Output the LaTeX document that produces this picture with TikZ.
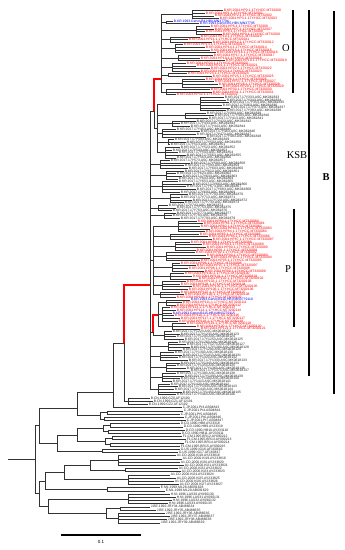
\documentclass[tikz,border=0pt]{standalone}
\usepackage{fontspec}
\setmainfont{Liberation Serif}
\newfontfamily\tipfont{Liberation Sans}

% label parts by colour code
\newcommand\prer{B.KR.2004.HP}\newcommand\sufr{-1.17Y.HCC.MT3200}
\newcommand\preb{B.KR.1993.Genot.B}\newcommand\sufb{.HBV.MN3779}
\newcommand\prek{B.KR.2017.17Y}\newcommand\sufk{3.ASC.MK0618}
\newcommand\pren{B.CN.1999.GZ}\newcommand\sufn{.AF1219}
\newcommand\preC{C.JP.2001.Pt}\newcommand\sufC{.AB0484}
\newcommand\preD{D.CD.1990.HB}\newcommand\sufD{.AY2331}
\newcommand\preF{F1.CM.1995.BR}\newcommand\sufF{.AY0902}
\newcommand\preG{G.US.1999.IG}\newcommand\sufG{.AF1606}
\newcommand\preA{A1.CD.2000.KI}\newcommand\sufA{.AY2338}
\newcommand\preE{E.ML.1998.ML}\newcommand\sufE{.AB0916}
\newcommand\preH{H.NI.1996.LAS}\newcommand\sufH{.AY0901}
\newcommand\preJ{J.BE.1992.JRY}\newcommand\sufJ{.AB4866}
\colorlet{colr}{red}
\colorlet{colb}{blue}
\colorlet{colk}{black!85}
\colorlet{coln}{colk}\colorlet{colC}{colk}\colorlet{colD}{colk}
\colorlet{colF}{colk}\colorlet{colG}{colk}\colorlet{colA}{colk}
\colorlet{colE}{colk}\colorlet{colH}{colk}\colorlet{colJ}{colk}

\tikzset{
  br/.style={draw=black!80, line width=0.45pt},
  hl/.style={draw=red, line width=2.4pt},
  lfnode/.style={anchor=west, inner sep=0pt, outer xsep=0.8pt, outer ysep=0pt,
    font={\tipfont\fontsize{3.4}{3.4}\selectfont}},
  bar/.style={draw=black, line width=1.8pt},
  clab/.style={inner sep=0pt, font={\fontsize{10.5}{10.5}\selectfont}}
}

\newcounter{lf}
\def\yo{10.5}\def\dy{2.63}
% one small clade: name, parent x, node x, tips x/colour
\newcommand\grp[4]{%
  \pgfmathsetmacro\grpA{\yo+\dy*\the\value{lf}}%
  \foreach \tx/\cc in {#4}{%
    \pgfmathsetmacro\yy{\yo+\dy*\the\value{lf}}%
    \node[lfnode, text=col\cc] (#1\arabic{lf}) at (\tx,\yy)
      {\csname pre\cc\endcsname\arabic{lf}\csname suf\cc\endcsname\arabic{lf}};
    \draw[br] (#3,\yy) -- (#1\arabic{lf}.west);
    \stepcounter{lf}}%
  \pgfmathsetmacro\grpB{\yo+\dy*(\the\value{lf}-1)}%
  \draw[br] (#3,\grpA) -- (#3,\grpB);
  \coordinate (#1) at (#3,{(\grpA+\grpB)/2});
  \draw[br] (#2,0 |- #1) -- (#1);}
% node joining two clades: name, parent x, x, top, bottom
\newcommand\spine[5]{%
  \draw[br] (#3,0 |- #4) -- coordinate (#1) (#3,0 |- #5);
  \draw[br] (#2,0 |- #1) -- (#1);}

\begin{document}
\begin{tikzpicture}[x=1pt,y=-1pt]
\useasboundingbox (0,0) rectangle (345,550);

% clade O
\grp{oa}{161}{192}{223/r,205/r,214/r,219/r}
\grp{ob}{161}{166}{173/b,199/b}
\grp{oc}{161}{196}{210/r,214/r,205/r,222/r}
\grp{od}{161}{170}{200/r,188/r,212/r}
\grp{oe}{161}{175}{183/r,205/r,210/r,216/r}
\grp{of}{161}{178}{213/r,200/r,225/r}
\grp{og}{161}{172}{186/r,196/r,210/r,200/r}
\grp{oh}{161}{168}{187/r,212/r}
\grp{oi}{161}{182}{205/r,214/r,218/r,222/r}
\grp{oj}{161}{166}{210/r,212/r,176/r}
% KSB
\grp{ka}{157}{200}{224/k,226/k,229/k,222/k,230/k,226/k}
\grp{kb}{157}{185}{206/k,214/k,208/k}
\grp{kc}{157}{172}{196/k,180/k,190/k}
\grp{kd}{157}{162}{176/k,200/k,196/k,206/k}
\grp{ke}{157}{168}{174/k,186/k,170/k}
\grp{kf}{157}{165}{180/k,172/k,178/k,186/k,176/k}
\grp{kg}{150}{160}{170/k,190/k,184/k,188/k}
\grp{kh}{150}{166}{184/k,176/k,182/k,178/k}
\grp{ki}{150}{162}{178/k,192/k,186/k,196/k,180/k}
\grp{kj}{150}{170}{188/k,180/k,192/k,184/k}
\grp{kk}{150}{158}{168/k,176/k,172/k}
\grp{kl}{150}{164}{176/k,172/k,180/k}
% clade P
\grp{pa}{153}{178}{197/r,203/r,200/r,210/r,205/r}
\grp{pb}{153}{170}{199/r,208/r,212/r}
\grp{pc}{153}{175}{190/r,202/r,206/r,196/r}
\grp{pd}{153}{166}{195/r,206/r,210/r,200/r}
\grp{pe}{153}{172}{180/r,196/r,188/r,204/r}
\grp{pf}{153}{170}{184/r,192/r,198/r}
\grp{pg}{153}{162}{186/r,180/r,192/r,188/r}
\grp{ph}{153}{160}{180/r,184/r,176/r}
\grp{pi}{158}{166}{190/b,182/r,176/r}
\grp{pj}{158}{162}{170/r,176/r,172/b,174/r,180/r,178/r}
\grp{pk}{158}{172}{186/r,196/r,200/r}
% rest of B
\grp{ra}{153}{164}{172/k,180/k,176/k,184/k}
\grp{rb}{150}{168}{178/k,186/k,190/k,182/k}
\grp{rc}{150}{160}{174/k,182/k,178/k,188/k}
\grp{rd}{150}{166}{180/k,176/k,186/k,190/k}
\grp{re}{150}{162}{176/k,184/k,180/k,172/k}
\grp{rf}{150}{158}{170/k,178/k,174/k,182/k,176/k}

% other genotypes
\setcounter{lf}{0}\def\yo{398}\def\dy{3.2}
\grp{cn}{124}{128}{150/n,153/n,148/n}
\grp{lc}{113}{113}{182/C}
\grp{ca}{100}{107}{183/C,180/C}
\grp{cb}{100}{104}{184/C,186/C}
\grp{da}{103}{110}{180/D,183/D}
\grp{db}{103}{108}{185/D,181/D}
\grp{fa}{105}{112}{182/F,186/F}
\grp{fb}{105}{110}{184/F,180/F}
\grp{gg}{57}{102}{180/G,178/G}
\grp{aa}{90}{118}{176/A,182/A,180/A,184/A}
\grp{ab}{90}{125}{178/A,181/A}
\grp{ac}{64}{128}{170/A,176/A,174/A,179/A}
\grp{ee}{45}{107}{160/E,165/E}
\grp{hh}{48}{128}{170/H,176/H,172/H,168/H}
\grp{ha}{106}{120}{150/J,156/J}
\grp{hb}{106}{118}{165/J,170/J,167/J,160/J}

% backbone of B
\coordinate (N1) at (154,111);
\coordinate (Oc) at (161,79);
\draw[br] (161,0 |- oa) -- (161,0 |- oj);
\draw[hl] (N1) |- (Oc);
\spine{sa}{154}{157}{ka}{kf}
\draw[br] (N1) -- (154,0 |- sa);
\draw[br] (150,0 |- N1) -- (N1);
\spine{ps}{150}{153}{pa}{ph}
\coordinate (P2) at (158,315);
\coordinate (N2) at (153,332);
\draw[br] (158,0 |- pi) -- (158,0 |- pk);
\draw[hl] (N2) |- (P2);
\draw[br] (N2) -- (153,0 |- ra);
\draw[br] (150,0 |- N2) -- (N2);
\draw[br] (150,0 |- N1) -- (150,0 |- rf);
\coordinate (Bn) at (150,285);
\coordinate (Bp) at (124,343);
\draw[hl] (Bp) |- (Bn);
\draw[br] (Bp) -- (124,0 |- cn);

% deeper nodes
\coordinate (U1a) at (113,392);
\coordinate (U1) at (77,408);
\draw[br] (113,0 |- Bp) -- (Bp);
\draw[br] (113,0 |- Bp) -- (113,0 |- lc);
\draw[br] (77,0 |- U1a) -- (U1a);
\spine{cs}{77}{100}{ca}{cb}
\draw[br] (77,0 |- U1a) -- (77,0 |- cs);
\draw[br] (39,0 |- U1) -- (U1);
\spine{ds}{77}{103}{da}{db}
\spine{fs}{77}{105}{fa}{fb}
\spine{ua}{57}{77}{ds}{fs}
\spine{ub}{39}{57}{ua}{gg}
\spine{uu}{35}{39}{U1}{ub}
\spine{as}{64}{90}{aa}{ab}
\spine{bs}{45}{64}{as}{ac}
\spine{es}{39}{45}{bs}{ee}
\spine{hs}{48}{106}{ha}{hb}
\spine{ls}{39}{48}{hh}{hs}
\spine{lo}{35}{39}{es}{ls}
\spine{rt}{8}{35}{uu}{lo}

% clade bars
\draw[bar] (293,10) -- (293,93);
\draw[bar] (309,10) -- (309,376);
\draw[bar] (294,209) -- (294,327);
\draw[bar] (334,11) -- (334,394);
\node[clab] (lO) at (286,48) {O};
\node[clab] (lKSB) at (297,155) {KSB};
\node[clab] (lP) at (288,269) {P};
\node[clab, font={\fontsize{10.5}{10.5}\selectfont\bfseries}] (lB) at (326,177) {B};

% scale
\draw[black, line width=2.2pt] (61,535) -- (141,535);
\node[inner sep=0pt, font={\tipfont\fontsize{4.5}{4.5}\selectfont}] (sc) at (101,542) {0.1};
\end{tikzpicture}
\end{document}
